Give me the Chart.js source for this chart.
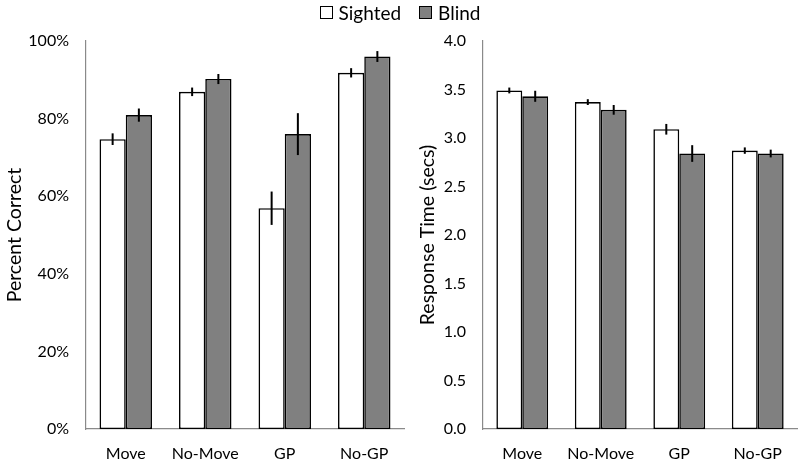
<!DOCTYPE html>
<html><head><meta charset="utf-8">
<script src="https://cdn.jsdelivr.net/npm/chart.js@4/dist/chart.umd.min.js"></script>
<style>
html,body{margin:0;padding:0;background:#fff;}
#wrap{position:relative;width:800px;height:460px;overflow:hidden;font-family:Lato,"Open Sans",sans-serif;}
#c1{position:absolute;left:0;top:0;}
#c2{position:absolute;left:400px;top:0;}
#legend{position:absolute;top:0;left:0;width:800px;height:24px;display:flex;justify-content:center;align-items:center;font-size:19px;color:#000;}
.item{display:flex;align-items:center;margin:0 9px;}
.box{width:11px;height:11px;border:1.5px solid #000;margin-right:6px;}
</style></head>
<body><div id="wrap">
<canvas id="c1" width="410" height="460"></canvas>
<canvas id="c2" width="400" height="460"></canvas>
<div id="legend"><div class="item"><div class="box" style="background:#fff"></div>Sighted</div><div class="item"><div class="box" style="background:#808080"></div>Blind</div></div>
</div>
<script>
const categories = ["Move", "No-Move", "GP", "No-GP"];
const seriesNames = ["Sighted", "Blind"];
const accSighted = [74.7, 86.9, 56.9, 91.8];
const accBlind = [80.9, 90.2, 76.0, 96.0];
const accSightedErr = [1.5, 1.1, 4.3, 1.2];
const accBlindErr = [1.7, 1.3, 5.4, 1.4];
const rtSighted = [3.49, 3.37, 3.09, 2.87];
const rtBlind = [3.43, 3.29, 2.84, 2.84];
const rtSightedErr = [0.03, 0.03, 0.055, 0.033];
const rtBlindErr = [0.057, 0.05, 0.086, 0.04];

const FONT = "Lato, 'Open Sans', sans-serif";

const errorBars = {
  id: 'errorBars',
  afterDatasetsDraw(chart, args, opts) {
    const ctx = chart.ctx;
    const y = chart.scales.y;
    ctx.save();
    ctx.strokeStyle = '#000';
    ctx.lineWidth = 2;
    chart.data.datasets.forEach((ds, i) => {
      const meta = chart.getDatasetMeta(i);
      meta.data.forEach((bar, j) => {
        const v = ds.data[j], e = ds.err[j];
        ctx.beginPath();
        ctx.moveTo(bar.x, y.getPixelForValue(v + e));
        ctx.lineTo(bar.x, y.getPixelForValue(v - e));
        ctx.stroke();
      });
    });
    ctx.restore();
  }
};

function makeChart(id, s, b, se, be, opt) {
  return new Chart(document.getElementById(id), {
    type: 'bar',
    data: {
      labels: categories,
      datasets: [
        {label: seriesNames[0], data: s, err: se, backgroundColor: '#ffffff', borderColor: '#000', borderWidth: 1.6, borderSkipped: false},
        {label: seriesNames[1], data: b, err: be, backgroundColor: '#808080', borderColor: '#000', borderWidth: 1.6, borderSkipped: false}
      ]
    },
    plugins: [errorBars],
    options: {
      responsive: false,
      animation: false,
      layout: {padding: {top: 41, right: opt.padRight, left: 0, bottom: 0}},
      plugins: {legend: {display: false}, tooltip: {enabled: false}},
      datasets: {bar: {categoryPercentage: 0.66, barPercentage: 1.0}},
      scales: {
        x: {
          grid: {display: false, drawTicks: false},
          border: {display: true, color: '#8a8a8a', width: 1.2},
          ticks: {color: '#000', font: {family: FONT, size: 16}, padding: 15, maxRotation: 0},
          afterFit: sc => { sc.height = 31; }
        },
        y: {
          min: 0, max: opt.max,
          grid: {display: false, drawTicks: false},
          border: {display: true, color: '#8a8a8a', width: 1.2},
          ticks: {color: '#000', font: {family: FONT, size: 16}, padding: 17, stepSize: opt.step, callback: opt.fmt},
          title: {display: true, text: opt.title, color: '#000', font: {family: FONT, size: 19.5}, padding: {top: opt.titlePad, bottom: 0}},
          afterFit: sc => { sc.width = opt.axisW; }
        }
      }
    }
  });
}

makeChart('c1', accSighted, accBlind, accSightedErr, accBlindErr,
  {max: 100, step: 20, fmt: v => v + '%', title: 'Percent Correct', axisW: 86, padRight: 6, titlePad: 3});
makeChart('c2', rtSighted, rtBlind, rtSightedErr, rtBlindErr,
  {max: 4, step: 0.5, fmt: v => v.toFixed(1), title: 'Response Time (secs)', axisW: 83, padRight: 3, titlePad: 16});
</script>
</body></html>
